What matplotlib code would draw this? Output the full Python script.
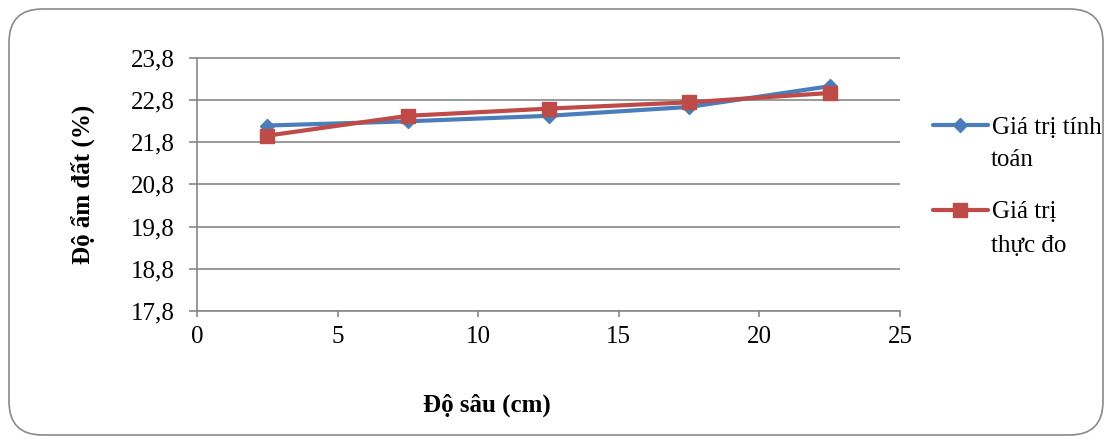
import matplotlib
matplotlib.use('Agg')
import matplotlib.pyplot as plt
from matplotlib.patches import FancyBboxPatch

# data
depth = [2.5, 7.5, 12.5, 17.5, 22.5]
tinh_toan = [22.19, 22.29, 22.42, 22.63, 23.12]
thuc_do = [21.95, 22.42, 22.59, 22.74, 22.96]
yticks = [17.8, 18.8, 19.8, 20.8, 21.8, 22.8, 23.8]
xticks = [0, 5, 10, 15, 20, 25]
labels = ['Giá trị tính', 'Giá trị']
labels_2 = ['toán', 'thực đo']

plt.rcParams['font.family'] = ['Liberation Serif', 'DejaVu Serif']
FS = 18

fig = plt.figure(figsize=(11.12, 4.44), dpi=100)
W, H = 1112, 444

# rounded chart frame
frame = FancyBboxPatch((9 / W, 9 / H), 1094 / W, 426 / H,
                       boxstyle="round,pad=0,rounding_size=0.03",
                       transform=fig.transFigure, fill=False,
                       edgecolor='#8a8a8a', linewidth=1.2,
                       mutation_aspect=W / H)
fig.patches.append(frame)

ax = fig.add_axes([197 / W, 1 - 311 / H, (900 - 197) / W, (311 - 57.5) / H])

grid_col = '#878787'
ax.set_xlim(0, 25)
ax.set_ylim(17.8, 23.8)
ax.set_xticks(xticks)
ax.set_yticks(yticks)
ax.set_yticklabels([('%.1f' % v).replace('.', ',') for v in yticks])
ax.yaxis.grid(True, color=grid_col, linewidth=1.2)
ax.set_axisbelow(True)
for s in ['top', 'right']:
    ax.spines[s].set_visible(False)
for s in ['left', 'bottom']:
    ax.spines[s].set_color(grid_col)
    ax.spines[s].set_linewidth(1.2)
ax.tick_params(axis='both', colors=grid_col, labelcolor='black',
               labelsize=FS, width=1.2, direction='out')
ax.tick_params(axis='y', length=5.8, pad=10)
ax.tick_params(axis='x', length=4.5, pad=6)

ax.plot(depth, tinh_toan, color='#4a7ebb', linewidth=3, marker='D',
        markersize=7.5, label=labels[0], solid_capstyle='round')
ax.plot(depth, thuc_do, color='#be4b48', linewidth=3, marker='s',
        markersize=10.5, label=labels[1], solid_capstyle='round')

ax.set_ylabel('Độ ẩm đất (%)', fontsize=FS, fontweight='bold')
ax.yaxis.set_label_coords(-0.145, 0.5)
fig.text(487 / W, 1 - 405 / H, 'Độ sâu (cm)', fontsize=FS,
         fontweight='bold', ha='center', va='center')

leg = ax.legend(loc='upper left', bbox_to_anchor=((933 - 197) / 703, (311 - 116) / 253.5),
                frameon=False, fontsize=FS, handlelength=2.2, handletextpad=0.16,
                labelspacing=2.5, borderaxespad=0, borderpad=0)
# second line of each legend label
for txt, yy in zip(labels_2, [160, 246]):
    fig.text(991 / W, 1 - yy / H, txt, fontsize=FS, ha='left', va='center')

fig.savefig('out.png', dpi=100)
